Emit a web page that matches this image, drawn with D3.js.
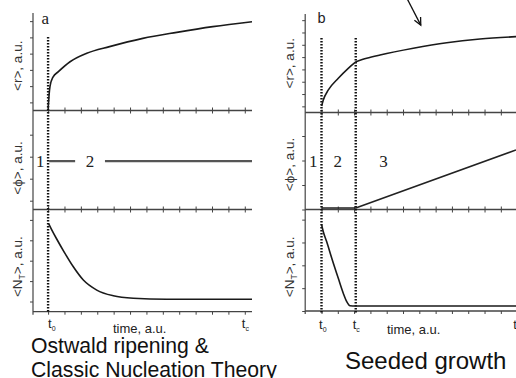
<!DOCTYPE html>
<html><head><meta charset="utf-8">
<script src="https://cdn.jsdelivr.net/npm/d3@7"></script>
<style>
html,body{margin:0;padding:0;background:#fff;}
svg{display:block;}
</style></head>
<body>
<svg id="c" width="516" height="378"></svg>
<script>
// ---------- data (time in a.u., values in a.u.) ----------
const tickTimesA = [0,1,2,3,4,5,6,7,8,9,10,11,12];
const tickTimesB = [0,1,2,3,4,5,6,7,8,9,10,11];
const tLabelsA = [{t:0, sub:"0", dx:0}, {t:12, sub:"c", dx:-3}];
const tLabelsB = [{t:0, sub:"0", dx:-2.5}, {t:2.1, sub:"c", dx:-3}, {t:11.95, sub:"", dx:-3}];
const t0A = 0, tcA = 12;
const t0B = 0, tcB = 2.1;

// panel a
const rA_t = [0.0, 0.03, 0.06, 0.12, 0.3, 0.63, 1.34, 2.36, 3.75, 5.78, 7.85, 10.05, 12.44];
const rA_v = [0.1, 0.5, 0.95, 1.5, 2.06, 2.39, 3.0, 3.52, 3.93, 4.44, 4.81, 5.16, 5.46];
const phiA_t = [0.06, 1.65, null, 3.47, 12.44];
const phiA_v = [2.2, 2.2, null, 2.2, 2.2];
const nA_t = [0.03, 0.2, 0.5, 1.0, 1.54, 2.15, 2.97, 3.98, 5.2, 7.24, 12.44];
const nA_v = [4.32, 4.05, 3.6, 2.9, 2.2, 1.55, 1.06, 0.78, 0.66, 0.61, 0.61];

// panel b
const rB1_t = [0.01, 0.11, 0.42, 1.03, 1.64, 2.12];
const rB1_v = [0.53, 1.02, 1.83, 2.78, 3.59, 4.13];
const rB2_t = [2.12, 2.77, 3.59, 5.63, 7.68, 9.72, 11.93];
const rB2_v = [4.13, 4.40, 4.67, 5.22, 5.67, 5.97, 6.16];
const phiB_t = [0, 2.1, 11.93];
const phiB_v = [0.06, 0.06, 2.43];
const nB_t = [0.01, 0.11, 0.32, 0.63, 1.03, 1.34, 1.55, 1.75, 2.06, 11.93];
const nB_v = [3.77, 3.47, 3.03, 2.31, 1.43, 0.77, 0.41, 0.23, 0.22, 0.22];

const yTicksA = {r:[0.5,1.5,2.5,3.5,4.5,5.5], phi:[0.4,1.4,2.4,3.4], n:[0.5,1.5,2.5,3.5,4.5]};
const yTicksB = {r:[0.5,1.5,2.5,3.5,4.5,5.5,6.5,7.5], phi:[0,1,2,3], n:[0,1,2,3,4]};
const yLabels = ["<r>, a.u.", "<ϕ>, a.u.", "<N_T>, a.u."];
const regionA = [{t:-0.48, v:2.2, s:"1"}, {t:2.55, v:2.2, s:"2"}];
const regionB = [{t:-0.5, v:2.0, s:"1"}, {t:1.0, v:2.0, s:"2"}, {t:3.8, v:2.0, s:"3"}];
const arrowB = {t1:5.23, v1:9.3, t2:6.09, v2:7.1};

// ---------- drawing ----------
const svg = d3.select("#c");
const AX = "#444", INK = "#1a1a1a";
const sans = "'Liberation Sans', Arial, sans-serif";
const serif = "'Liberation Serif', 'Times New Roman', serif";

const xA = d3.scaleLinear().domain([-0.92, 12.44]).range([33, 252]);
const xB = d3.scaleLinear().domain([-1, 11.93]).range([305.2, 516]);

const yA = {
  r: d3.scaleLinear().domain([0, 6]).range([110.5, 13]),
  phi: d3.scaleLinear().domain([0, 4.5]).range([209.5, 110.5]),
  n: d3.scaleLinear().domain([0, 5]).range([311.7, 209.7])
};
const yB = {
  r: d3.scaleLinear().domain([0, 8]).range([112.5, 14]),
  phi: d3.scaleLinear().domain([0, 4]).range([209.5, 111.5]),
  n: d3.scaleLinear().domain([0, 4.4]).range([311, 210.5])
};

function zip(ts, vs){ return ts.map((t,i)=>({t:t, v:vs[i]})); }

function panel(x, ys, tickTimes, yTicks){
  const g = svg.append("g");
  const x0 = x.range()[0], x1 = x.range()[1];
  const yTop = ys.r.range()[1], yBot = ys.n.range()[0];
  g.append("line").attr("x1",x0).attr("x2",x0).attr("y1",yTop).attr("y2",yBot+3)
    .attr("stroke",AX).attr("stroke-width",1.2);
  ["r","phi","n"].forEach(k=>{
    const ax = d3.axisLeft(ys[k]).tickValues(yTicks[k]).tickSize(3).tickFormat("");
    const ag = g.append("g").attr("transform",`translate(${x0},0)`).call(ax);
    ag.select(".domain").remove();
    ag.selectAll("line").attr("stroke",AX).attr("stroke-width",1);
  });
  const bounds = [ys.r.range()[0], ys.phi.range()[0]];
  bounds.forEach(by=>{
    g.append("line").attr("x1",x0).attr("x2",x1).attr("y1",by).attr("y2",by)
      .attr("stroke",AX).attr("stroke-width",1.3);
    const ax = d3.axisTop(x).tickValues(tickTimes).tickSize(3).tickFormat("");
    const a1 = g.append("g").attr("transform",`translate(0,${by})`).call(ax);
    a1.select(".domain").remove();
    a1.selectAll("line").attr("stroke",AX);
    const ax2 = d3.axisBottom(x).tickValues(tickTimes).tickSize(3).tickFormat("");
    const a2 = g.append("g").attr("transform",`translate(0,${by})`).call(ax2);
    a2.select(".domain").remove();
    a2.selectAll("line").attr("stroke",AX);
  });
  g.append("line").attr("x1",x0).attr("x2",x1).attr("y1",yBot).attr("y2",yBot)
    .attr("stroke",AX).attr("stroke-width",1.3);
  const bax = d3.axisBottom(x).tickValues(tickTimes).tickSize(3).tickFormat("");
  const bg = g.append("g").attr("transform",`translate(0,${yBot})`).call(bax);
  bg.select(".domain").remove();
  bg.selectAll("line").attr("stroke",AX);
  return g;
}

panel(xA, yA, tickTimesA, yTicksA);
panel(xB, yB, tickTimesB, yTicksB);

function dotted(x, t, yTop, yBot){
  svg.append("line").attr("x1",x(t)).attr("x2",x(t)).attr("y1",yTop).attr("y2",yBot)
    .attr("stroke","#111").attr("stroke-width",2.4).attr("stroke-dasharray","1.5,1.5");
}
dotted(xA, t0A, 37, 312);
dotted(xB, t0B, 38, 313);
dotted(xB, tcB, 38, 313);

function drawLine(x, y, data, width, color, curve){
  const line = d3.line().defined(d=>d.t!==null).x(d=>x(d.t)).y(d=>y(d.v)).curve(curve||d3.curveMonotoneX);
  svg.append("path").datum(data).attr("d",line).attr("fill","none")
    .attr("stroke",color).attr("stroke-width",width).attr("stroke-linejoin","round");
}
drawLine(xA, yA.r, zip(rA_t, rA_v), 1.6, INK);
drawLine(xA, yA.phi, zip(phiA_t, phiA_v), 2.2, "#555", d3.curveLinear);
drawLine(xA, yA.n, zip(nA_t, nA_v), 1.6, INK);
drawLine(xB, yB.r, zip(rB1_t, rB1_v), 1.6, INK);
drawLine(xB, yB.r, zip(rB2_t, rB2_v), 1.6, INK);
drawLine(xB, yB.phi, zip(phiB_t, phiB_v), 1.6, "#222", d3.curveLinear);
drawLine(xB, yB.n, zip(nB_t, nB_v), 1.6, INK);

regionA.forEach(d=>{
  svg.append("text").attr("x",xA(d.t)).attr("y",yA.phi(d.v)+6).attr("text-anchor","middle")
    .attr("font-family",serif).attr("font-size",17).attr("fill","#222").text(d.s);
});
regionB.forEach(d=>{
  svg.append("text").attr("x",xB(d.t)).attr("y",yB.phi(d.v)+6).attr("text-anchor","middle")
    .attr("font-family",serif).attr("font-size",17).attr("fill","#222").text(d.s);
});

svg.append("text").attr("x",41.5).attr("y",23.5).attr("font-family",serif).attr("font-size",17).attr("fill","#222").text("a");
svg.append("text").attr("x",317.5).attr("y",22.7).attr("font-family",sans).attr("font-size",14.5).attr("fill","#222").text("b");

function yLabel(cx, cy, s){
  const t = svg.append("text").attr("transform",`translate(${cx},${cy}) rotate(-90)`)
    .attr("text-anchor","middle").attr("font-family",sans).attr("font-size",13.5).attr("fill","#333");
  if (s.indexOf("_")>=0){
    const parts = s.split("_");
    t.append("tspan").text(parts[0]);
    t.append("tspan").attr("font-size",8.5).attr("dy",3).text(parts[1][0]);
    t.append("tspan").attr("dy",-3).text(parts[1].slice(1));
  } else t.text(s);
}
yLabel(22, (yA.r.range()[0]+yA.r.range()[1])/2+4, yLabels[0]);
yLabel(22, (yA.phi.range()[0]+yA.phi.range()[1])/2+8, yLabels[1]);
yLabel(22, (yA.n.range()[0]+yA.n.range()[1])/2+6, yLabels[2]);
yLabel(293.5, (yB.r.range()[0]+yB.r.range()[1])/2, yLabels[0]);
yLabel(293.5, (yB.phi.range()[0]+yB.phi.range()[1])/2+4, yLabels[1]);
yLabel(293.5, (yB.n.range()[0]+yB.n.range()[1])/2+6, yLabels[2]);

function tLabels(x, list, y){
  list.forEach(d=>{
    const t = svg.append("text").attr("x",x(d.t)+d.dx).attr("y",y).attr("font-family",sans)
      .attr("font-size",13).attr("fill","#222");
    t.append("tspan").text("t");
    if (d.sub) t.append("tspan").attr("font-size",7).attr("dy",2.5).text(d.sub);
  });
}
tLabels(xA, tLabelsA, 328);
tLabels(xB, tLabelsB, 329);
svg.append("text").attr("x",113).attr("y",332.5).attr("font-family",sans).attr("font-size",13).attr("fill","#222").text("time, a.u.");
svg.append("text").attr("x",387).attr("y",334).attr("font-family",sans).attr("font-size",13).attr("fill","#222").text("time, a.u.");

const ax1 = xB(arrowB.t1), ay1 = yB.r(arrowB.v1), ax2 = xB(arrowB.t2), ay2 = yB.r(arrowB.v2);
svg.append("line").attr("x1",ax1).attr("y1",ay1).attr("x2",ax2).attr("y2",ay2).attr("stroke","#111").attr("stroke-width",1.3);
const ang = Math.atan2(ay2-ay1, ax2-ax1), L = 8, spread = 0.45;
svg.append("path").attr("d",
  `M${ax2-L*Math.cos(ang-spread)},${ay2-L*Math.sin(ang-spread)}L${ax2},${ay2}L${ax2-L*Math.cos(ang+spread)},${ay2-L*Math.sin(ang+spread)}`)
  .attr("fill","none").attr("stroke","#111").attr("stroke-width",1.3);

svg.append("text").attr("x",31).attr("y",352.5).attr("font-family",sans).attr("font-size",21.2).attr("fill","#111").text("Ostwald ripening &");
svg.append("text").attr("x",31).attr("y",376.5).attr("font-family",sans).attr("font-size",21.2).attr("fill","#111").text("Classic Nucleation Theory");
svg.append("text").attr("x",345).attr("y",369).attr("font-family",sans).attr("font-size",24).attr("fill","#111").text("Seeded growth");
</script>
</body></html>
